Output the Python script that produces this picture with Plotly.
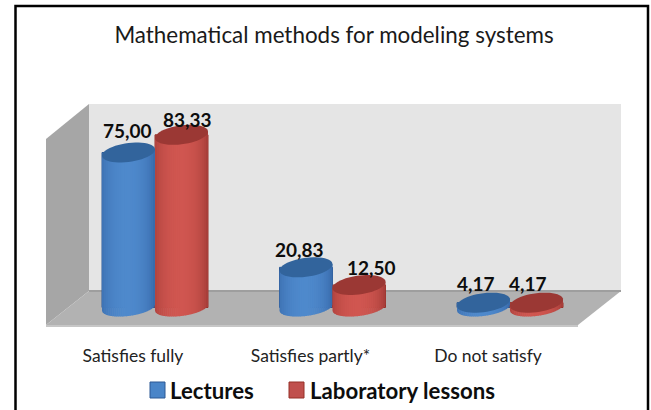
import math
import plotly.graph_objects as go

categories = ["Satisfies fully", "Satisfies partly*", "Do not satisfy"]
lectures = [75.00, 20.83, 4.17]
laboratory = [83.33, 12.50, 4.17]
series_names = ["Lectures", "Laboratory lessons"]
title = "Mathematical methods for modeling systems"

W, H = 651, 410
FONT = "Lato"
PX_CAT = 177.5      # pixels per category
PX_VAL = 2.12       # pixels per value unit
X0_PX = 155.0       # pixel of the first category centre
Y0_PX = 311.5       # pixel of value zero
AXIS_BOTTOM_PX = 331
A_PX, B_PX, B_TOP_PX, SHEAR = 26.5, 8.5, 9.5, 0.12
FLOOR_VALUE = 1.9   # value level where cylinders stand

BLUE = {"edge": (52, 100, 165), "mid": (78, 137, 204), "top": (50, 100, 156), "swatch": "#4a85c8"}
RED = {"edge": (158, 56, 52), "mid": (208, 86, 80), "top": (155, 56, 52), "swatch": "#c0504d"}


def pxx(p):
    return (p - X0_PX) / PX_CAT


def pxy(p):
    return (Y0_PX - p) / PX_VAL


def py_paper(p):
    return (AXIS_BOTTOM_PX - p) / AXIS_BOTTOM_PX


def rgb(c):
    return "rgb(%d,%d,%d)" % tuple(round(v) for v in c)


def mix(a, b, t):
    return tuple(x + (y - x) * t for x, y in zip(a, b))


def cylinder_shapes(center, value, style):
    shapes = []
    n = 26
    a_u = A_PX / PX_CAT
    for k in range(n):
        u0, u1 = -1 + 2 * k / n, -1 + 2 * (k + 1.25) / n
        u1 = min(u1, 1.0)
        pts = []
        steps = 4
        for j in range(steps + 1):        # bottom arc, left to right
            u = u0 + (u1 - u0) * j / steps
            dip = B_PX * (max(0.0, 1 - u * u)) ** 0.5
            pts.append((center + u * a_u, FLOOR_VALUE + (SHEAR * u * A_PX - dip) / PX_VAL))
        for u in (u1, u0):                # top edge
            pts.append((center + u * a_u, value + SHEAR * u * A_PX / PX_VAL))
        um = (u0 + u1) / 2
        t = max(0.0, 1 - ((um + 0.05) / 1.05) ** 2) ** 0.6
        path = "M" + "L".join(f"{x:.5f},{y:.4f}" for x, y in pts) + "Z"
        shapes.append(dict(type="path", path=path, xref="x", yref="y", layer="above",
                           fillcolor=rgb(mix(style["edge"], style["mid"], t)), line=dict(width=0)))
    pts = []
    for j in range(49):
        th = 2 * math.pi * j / 48
        u, w = math.cos(th), math.sin(th)
        pts.append((center + u * a_u, value + (SHEAR * u * A_PX + B_TOP_PX * w) / PX_VAL))
    path = "M" + "L".join(f"{x:.5f},{y:.4f}" for x, y in pts) + "Z"
    shapes.append(dict(type="path", path=path, xref="x", yref="y", layer="above",
                       fillcolor=rgb(style["top"]), line=dict(width=0)))
    return shapes


def paper_poly(points, fill):
    path = "M" + "L".join(f"{x / W:.5f},{py_paper(y):.5f}" for x, y in points) + "Z"
    return dict(type="path", path=path, xref="paper", yref="paper", layer="below",
                fillcolor=fill, line=dict(width=0))


xs = list(range(len(categories)))
half = A_PX / PX_CAT

fig = go.Figure()
fig.add_trace(go.Bar(name=series_names[0], x=xs, y=[v - FLOOR_VALUE for v in lectures], base=FLOOR_VALUE,
                     marker=dict(color=BLUE["swatch"], line=dict(color="#2c5894", width=1))))
fig.add_trace(go.Bar(name=series_names[1], x=xs, y=[v - FLOOR_VALUE for v in laboratory], base=FLOOR_VALUE,
                     marker=dict(color=RED["swatch"], line=dict(color="#963028", width=1))))

shapes = [
    paper_poly([(89, 104), (621, 104), (621, 291), (89, 291)], "#e5e5e5"),
    paper_poly([(89, 104), (46, 139), (46, 325), (89, 291)], "#a6a6a6"),
    paper_poly([(89, 291), (621, 291), (578, 325), (46, 325)], "#b2b2b2"),
    paper_poly([(46, 325), (578, 325), (578, 327), (46, 327)], "#c6c6c6"),
    paper_poly([(89, 290), (621, 290), (621, 292), (89, 292)], "#9e9e9e"),
]
for i in xs:
    shapes += cylinder_shapes(i - half, lectures[i], BLUE)
    shapes += cylinder_shapes(i + half, laboratory[i], RED)
shapes.append(dict(type="rect", xref="paper", yref="paper", layer="above",
                   x0=15.5 / W, x1=648 / W, y0=py_paper(430), y1=py_paper(6),
                   line=dict(color="#000000", width=2.5)))

label_dx = [[-1, -7, -8], [6, 12, -9]]
label_dy = [[22, 18, 19], [15, 18, 19]]
annotations = []
for s, (vals, sign) in enumerate(((lectures, -1), (laboratory, 1))):
    for i, v in enumerate(vals):
        annotations.append(dict(x=i + sign * half, y=v, xref="x", yref="y", showarrow=False,
                                text=f"{v:.2f}".replace(".", ","), xshift=label_dx[s][i],
                                yshift=label_dy[s][i], xanchor="center", yanchor="middle",
                                font=dict(family=FONT, size=19, color="#0d0d0d", weight=700)))

legend_layout = [(150, 168, BLUE["swatch"], "#2c5894"), (289, 308, RED["swatch"], "#963028")]
for name, (sx, tx, fill, edge) in zip(series_names, legend_layout):
    shapes.append(dict(type="rect", xref="paper", yref="paper", layer="above",
                       x0=sx / W, x1=(sx + 15) / W, y0=py_paper(398), y1=py_paper(382),
                       fillcolor=fill, line=dict(color=edge, width=1)))
    annotations.append(dict(x=tx / W, y=py_paper(390), xref="paper", yref="paper", showarrow=False,
                            text=name, xanchor="left", yanchor="middle",
                            font=dict(family=FONT, size=22.2, color="#0d0d0d", weight=700)))

fig.update_layout(
    width=W, height=H, autosize=False,
    margin=dict(l=0, r=0, t=0, b=H - AXIS_BOTTOM_PX),
    paper_bgcolor="white", plot_bgcolor="rgba(0,0,0,0)",
    barmode="group", bargap=1 - 4 * half,  bargroupgap=0,
    title=dict(text=title, x=334 / W, y=1 - 35 / H, xanchor="center", yanchor="middle",
               font=dict(family=FONT, size=22.4, color="#1a1a1a")),
    xaxis=dict(range=[pxx(0), pxx(W)], tickmode="array",
               tickvals=[i - 22 / PX_CAT for i in xs], ticktext=categories,
               showgrid=False, zeroline=False, showline=False, ticks="", ticklabelstandoff=12,
               tickfont=dict(family=FONT, size=17.5, color="#222222"), fixedrange=True),
    yaxis=dict(range=[pxy(AXIS_BOTTOM_PX), pxy(0)], visible=False, fixedrange=True),
    showlegend=False,
    shapes=shapes, annotations=annotations,
)
fig.write_html("out.html", config=dict(displayModeBar=False),
               post_script="document.body.style.margin='0';document.body.style.overflow='hidden';")
